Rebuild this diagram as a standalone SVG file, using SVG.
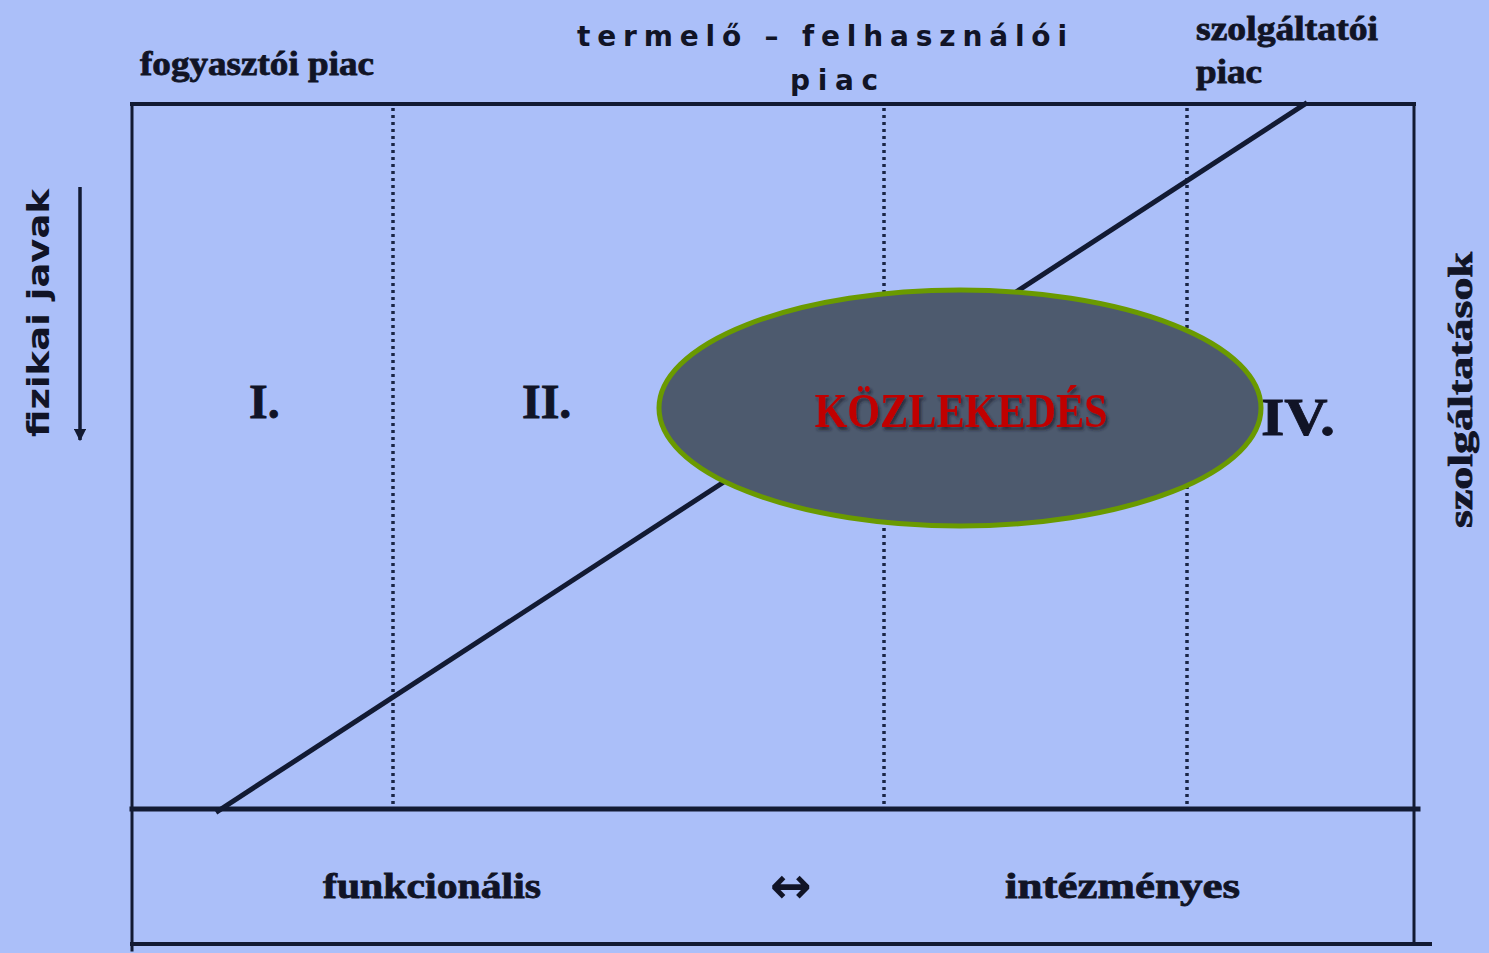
<svg xmlns="http://www.w3.org/2000/svg" width="1489" height="953" viewBox="0 0 1489 953">
<defs>
<style>
.ln{stroke:#121a33;fill:none;stroke-linecap:square}
.dot{stroke:#1a2545;stroke-width:3.5;stroke-dasharray:3 4;fill:none}
.lbl{font-family:"Liberation Serif","DejaVu Serif",serif;font-weight:bold;fill:#111426;stroke:#111426;stroke-width:0.8}
.sp{font-family:"DejaVu Sans","Liberation Sans",sans-serif;font-weight:bold;fill:#111426}
</style>
<marker id="ah" viewBox="0 0 10 10" refX="9" refY="5" markerWidth="3.5" markerHeight="3.5" orient="auto" markerUnits="strokeWidth">
<path d="M0,0 L10,5 L0,10 z" fill="#121a33"/>
</marker>
<filter id="shadow" x="-10%" y="-30%" width="120%" height="160%">
<feDropShadow dx="2" dy="3" stdDeviation="1.5" flood-color="#1a1e28" flood-opacity="0.7"/>
</filter>
</defs>
<rect x="0" y="0" width="1489" height="953" fill="#abbff9"/>

<g id="frame">
<line class="ln" x1="132" y1="104" x2="1414" y2="104" stroke-width="4"/>
<line class="ln" x1="132" y1="104" x2="132" y2="950" stroke-width="3"/>
<line class="ln" x1="1414" y1="104" x2="1414" y2="944" stroke-width="3"/>
<line class="ln" x1="132" y1="809" x2="1418" y2="809" stroke-width="5"/>
<line class="ln" x1="132" y1="944" x2="1430" y2="944" stroke-width="4"/>
</g>

<g id="dividers">
<line class="dot" x1="393" y1="108" x2="393" y2="805"/>
<line class="dot" x1="884" y1="108" x2="884" y2="805"/>
<line class="dot" x1="1187" y1="108" x2="1187" y2="805"/>
</g>

<g id="connectors">
<line class="ln" x1="218" y1="811" x2="1305" y2="104" stroke-width="5"/>
<line x1="80" y1="187" x2="80" y2="440" stroke="#121a33" stroke-width="3.5" marker-end="url(#ah)"/>
</g>

<g id="top-labels">
<text class="lbl" x="140" y="75" font-size="34" textLength="234" lengthAdjust="spacingAndGlyphs">fogyasztói piac</text>
<text class="sp" x="577" y="46" font-size="28" textLength="490" lengthAdjust="spacing">termelő – felhasználói</text>
<text class="sp" x="790" y="90" font-size="28" textLength="88" lengthAdjust="spacing">piac</text>
<text class="lbl" x="1196" y="40" font-size="34" textLength="182" lengthAdjust="spacingAndGlyphs">szolgáltatói</text>
<text class="lbl" x="1196" y="83" font-size="34" textLength="66" lengthAdjust="spacingAndGlyphs">piac</text>
</g>

<g id="side-labels">
<text class="sp" transform="translate(49,437) rotate(-90)" x="0" y="0" font-size="30" textLength="248" lengthAdjust="spacingAndGlyphs">fizikai javak</text>
<text class="lbl" transform="translate(1472,528) rotate(-90)" x="0" y="0" font-size="34" textLength="276" lengthAdjust="spacingAndGlyphs">szolgáltatások</text>
</g>

<g id="zones">
<text class="lbl" x="249" y="418" font-size="48">I.</text>
<text class="lbl" x="522" y="418" font-size="48">II.</text>
<text class="lbl" x="1261" y="435" font-size="52" textLength="74" lengthAdjust="spacingAndGlyphs">IV.</text>
</g>

<g id="kozlekedes">
<ellipse cx="960" cy="408" rx="301" ry="118" fill="#4d5a6e" stroke="#6a9a00" stroke-width="5"/>
<text x="961" y="427" text-anchor="middle" font-family="Liberation Serif, DejaVu Serif, serif" font-weight="bold" font-size="48" textLength="293" lengthAdjust="spacingAndGlyphs" fill="#c00000" filter="url(#shadow)">KÖZLEKEDÉS</text>
</g>

<g id="bottom-labels">
<text class="lbl" x="323" y="898" font-size="36" textLength="218" lengthAdjust="spacingAndGlyphs">funkcionális</text>
<text x="791" y="903" font-family="DejaVu Sans, sans-serif" font-weight="bold" font-size="50" text-anchor="middle" fill="#111426">↔</text>
<text class="lbl" x="1005" y="898" font-size="36" textLength="235" lengthAdjust="spacingAndGlyphs">intézményes</text>
</g>
</svg>
